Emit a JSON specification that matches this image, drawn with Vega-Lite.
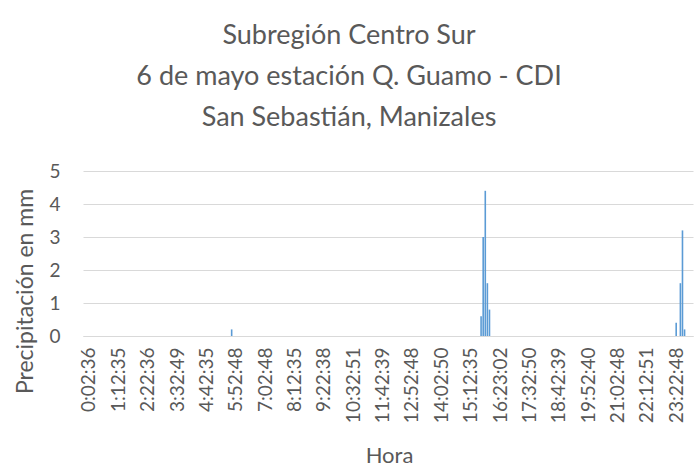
{
  "$schema": "https://vega.github.io/schema/vega-lite/v6.json",
  "autosize": {"type": "none"},
  "width": 610,
  "height": 165,
  "padding": {"left": 83, "top": 171, "right": 4, "bottom": 138},
  "background": "white",
  "title": {
    "text": ["Subregión Centro Sur", "6 de mayo estación Q. Guamo - CDI", "San Sebastián, Manizales"],
    "font": "Lato",
    "fontSize": 27,
    "fontWeight": "normal",
    "color": "#595959",
    "lineHeight": 41,
    "anchor": "middle",
    "dx": -39,
    "offset": 30
  },
  "data": {
    "values": [
      {"hora": "2000-05-06T05:42:48", "precipitacion": 0.2},
      {"hora": "2000-05-06T15:37:35", "precipitacion": 0.6},
      {"hora": "2000-05-06T15:42:35", "precipitacion": 3.0},
      {"hora": "2000-05-06T15:47:35", "precipitacion": 4.4},
      {"hora": "2000-05-06T15:52:35", "precipitacion": 1.6},
      {"hora": "2000-05-06T15:57:35", "precipitacion": 0.8},
      {"hora": "2000-05-06T23:22:48", "precipitacion": 0.4},
      {"hora": "2000-05-06T23:32:48", "precipitacion": 1.6},
      {"hora": "2000-05-06T23:37:48", "precipitacion": 3.2},
      {"hora": "2000-05-06T23:42:48", "precipitacion": 0.2}
    ]
  },
  "mark": {"type": "bar", "width": 1.6, "color": "#5B9BD5"},
  "encoding": {
    "x": {
      "field": "hora",
      "type": "temporal",
      "title": "Hora",
      "scale": {
        "domain": [
          {"year": 2000, "month": 5, "date": 6, "hours": 0, "minutes": 0, "seconds": 15},
          {"year": 2000, "month": 5, "date": 6, "hours": 23, "minutes": 50, "seconds": 58}
        ]
      },
      "axis": {
        "values": [
          {"year": 2000, "month": 5, "date": 6, "hours": 0, "minutes": 2, "seconds": 36},
          {"year": 2000, "month": 5, "date": 6, "hours": 1, "minutes": 12, "seconds": 35},
          {"year": 2000, "month": 5, "date": 6, "hours": 2, "minutes": 22, "seconds": 36},
          {"year": 2000, "month": 5, "date": 6, "hours": 3, "minutes": 32, "seconds": 49},
          {"year": 2000, "month": 5, "date": 6, "hours": 4, "minutes": 42, "seconds": 35},
          {"year": 2000, "month": 5, "date": 6, "hours": 5, "minutes": 52, "seconds": 48},
          {"year": 2000, "month": 5, "date": 6, "hours": 7, "minutes": 2, "seconds": 48},
          {"year": 2000, "month": 5, "date": 6, "hours": 8, "minutes": 12, "seconds": 35},
          {"year": 2000, "month": 5, "date": 6, "hours": 9, "minutes": 22, "seconds": 38},
          {"year": 2000, "month": 5, "date": 6, "hours": 10, "minutes": 32, "seconds": 51},
          {"year": 2000, "month": 5, "date": 6, "hours": 11, "minutes": 42, "seconds": 39},
          {"year": 2000, "month": 5, "date": 6, "hours": 12, "minutes": 52, "seconds": 48},
          {"year": 2000, "month": 5, "date": 6, "hours": 14, "minutes": 2, "seconds": 50},
          {"year": 2000, "month": 5, "date": 6, "hours": 15, "minutes": 12, "seconds": 35},
          {"year": 2000, "month": 5, "date": 6, "hours": 16, "minutes": 23, "seconds": 2},
          {"year": 2000, "month": 5, "date": 6, "hours": 17, "minutes": 32, "seconds": 50},
          {"year": 2000, "month": 5, "date": 6, "hours": 18, "minutes": 42, "seconds": 39},
          {"year": 2000, "month": 5, "date": 6, "hours": 19, "minutes": 52, "seconds": 40},
          {"year": 2000, "month": 5, "date": 6, "hours": 21, "minutes": 2, "seconds": 48},
          {"year": 2000, "month": 5, "date": 6, "hours": 22, "minutes": 12, "seconds": 51},
          {"year": 2000, "month": 5, "date": 6, "hours": 23, "minutes": 22, "seconds": 48}
        ],
        "format": "%-H:%M:%S",
        "formatType": "time",
        "labelAngle": 270,
        "labelAlign": "right",
        "labelBaseline": "middle",
        "labelFont": "Lato",
        "labelFontSize": 19,
        "labelColor": "#595959",
        "labelPadding": 11,
        "labelOverlap": false,
        "labelFlush": false,
        "labelBound": false,
        "ticks": false,
        "grid": false,
        "domainColor": "#D9D9D9",
        "domainWidth": 1,
        "titleFont": "Lato",
        "titleFontSize": 22,
        "titleFontWeight": "normal",
        "titleColor": "#595959",
        "titleX": 306,
        "titleY": 119,
        "titleAlign": "center",
        "titleBaseline": "middle"
      }
    },
    "y": {
      "field": "precipitacion",
      "type": "quantitative",
      "title": "Precipitación en mm",
      "scale": {"domain": [0, 5], "nice": false},
      "axis": {
        "values": [0, 1, 2, 3, 4, 5],
        "ticks": false,
        "domain": false,
        "grid": true,
        "gridColor": "#D9D9D9",
        "gridWidth": 1,
        "labelFont": "Lato",
        "labelFontSize": 19,
        "labelColor": "#595959",
        "labelPadding": 23,
        "titleFont": "Lato",
        "titleFontSize": 23,
        "titleFontWeight": "normal",
        "titleColor": "#595959",
        "titleAngle": 270,
        "titleX": -58,
        "titleY": 120,
        "titleAlign": "center",
        "titleBaseline": "middle"
      }
    }
  },
  "config": {"view": {"stroke": null}}
}
